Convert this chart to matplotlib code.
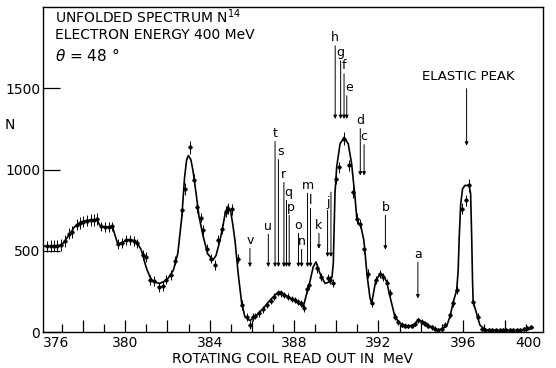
import matplotlib.pyplot as plt
from matplotlib.ticker import FixedLocator

# smooth curve drawn through the measured points (MeV, counts)
curve_x = [376.10, 376.59, 376.99, 377.19, 377.38, 377.58, 377.78, 377.97, 378.17, 378.47,
           378.66, 378.78, 378.86, 379.16, 379.41, 379.55, 379.65, 379.85, 380.15, 380.35,
           380.54, 380.74, 380.84, 380.94, 381.04, 381.19, 381.33, 381.63, 381.83, 382.02,
           382.28, 382.49, 382.68, 382.81, 382.91, 382.99, 383.11, 383.21, 383.36, 383.50,
           383.70, 383.90, 384.15, 384.30, 384.49, 384.64, 384.75, 384.87, 385.00, 385.10,
           385.20, 385.36, 385.52, 385.67, 385.91, 386.23, 386.54, 386.86, 387.18, 387.33,
           387.73, 388.12, 388.44, 388.60, 388.75, 388.91, 389.04, 389.23, 389.47, 389.70,
           389.80, 389.86, 389.94, 390.02, 390.18, 390.37, 390.57, 390.73, 390.89, 390.97,
           391.06, 391.16, 391.31, 391.47, 391.60, 391.68, 391.78, 391.88, 392.10, 392.25,
           392.39, 392.55, 392.78, 393.02, 393.29, 393.49, 393.74, 393.89, 394.08, 394.29,
           394.46, 394.67, 394.85, 395.07, 395.23, 395.39, 395.55, 395.71, 395.78, 395.83,
           395.90, 395.99, 396.10, 396.30, 396.37, 396.42, 396.46, 396.49, 396.65, 396.81,
           396.97, 397.15, 397.84, 398.81, 399.11, 399.31]
curve_n = [528, 528, 535, 570, 605, 645, 667, 680, 687, 690,
           688, 660, 646, 646, 640, 580, 540, 552, 569, 565,
           554, 510, 472, 420, 380, 335, 309, 299, 310, 329,
           380, 483, 707, 950, 1060, 1086, 1060, 994, 850, 707,
           585, 483, 442, 470, 564, 660, 740, 773, 740, 660,
           564, 350, 176, 94, 70, 104, 145, 196, 237, 247,
           217, 186, 155, 237, 309, 401, 431, 360, 299, 309,
           339, 420, 851, 1014, 1158, 1198, 1158, 1035, 830, 707,
           670, 656, 564, 339, 210, 176, 250, 319, 360, 345,
           309, 217, 94, 53, 40, 37, 50, 74, 65, 53,
           33, 18, 12, 25, 35, 94, 186, 258, 380, 585,
           790, 882, 902, 902, 851, 585, 319, 186, 115, 43,
           23, 12, 8, 10, 15, 25]

# data points with statistical errors
pts_x = [376.30, 376.46, 376.62, 376.78, 376.94, 377.14, 377.35, 377.49, 377.70, 377.85,
         378.01, 378.19, 378.36, 378.50, 378.67, 378.83, 379.04, 379.23, 379.38, 379.64,
         379.83, 380.03, 380.22, 380.41, 380.57, 380.85, 380.98, 381.17, 381.36, 381.60,
         381.77, 381.93, 382.17, 382.36, 382.67, 382.83, 383.07, 383.26, 383.41, 383.57,
         383.70, 383.86, 384.05, 384.25, 384.41, 384.57, 384.77, 384.88, 385.04, 385.36,
         385.52, 385.75, 385.91, 386.07, 386.15, 386.35, 386.54, 386.73, 386.89, 387.06,
         387.22, 387.37, 387.54, 387.73, 387.89, 388.04, 388.20, 388.33, 388.46, 388.63,
         388.72, 389.10, 389.26, 389.59, 389.70, 389.83, 389.99, 390.14, 390.37, 390.62,
         390.81, 390.97, 391.12, 391.31, 391.49, 391.68, 391.88, 392.07, 392.23, 392.39,
         392.55, 392.78, 392.94, 393.10, 393.26, 393.41, 393.57, 393.73, 393.89, 394.05,
         394.20, 394.36, 394.52, 394.68, 394.83, 394.99, 395.15, 395.39, 395.55, 395.74,
         395.97, 396.13, 396.30, 396.49, 396.73, 396.91, 397.07, 397.24, 397.40, 397.57,
         397.74, 397.90, 398.07, 398.23, 398.40, 398.56, 398.73, 398.90, 399.06, 399.23]
pts_n = [528, 530, 532, 530, 535, 560, 605, 615, 660, 670,
         680, 685, 690, 690, 695, 650, 645, 648, 650, 540,
         550, 565, 568, 558, 545, 475, 460, 319, 313, 274,
         282, 323, 350, 440, 748, 881, 1137, 937, 769, 704,
         626, 513, 452, 411, 564, 636, 740, 760, 755, 452,
         166, 94, 43, 90, 100, 115, 139, 166, 190, 217,
         241, 237, 227, 217, 204, 196, 186, 176, 145, 262,
         290, 391, 340, 330, 320, 303, 943, 1014, 1188, 1025,
         861, 698, 667, 513, 360, 176, 319, 356, 339, 303,
         237, 94, 60, 45, 40, 37, 37, 50, 72, 62,
         52, 40, 29, 20, 12, 20, 45, 104, 180, 258,
         759, 810, 902, 186, 94, 20, 15, 12, 12, 10,
         10, 12, 10, 12, 12, 15, 15, 18, 22, 28]
pts_err = [35, 35, 35, 35, 35, 35, 35, 35, 35, 35,
           35, 35, 35, 35, 35, 30, 30, 30, 30, 30,
           30, 30, 30, 30, 30, 30, 30, 30, 30, 30,
           30, 30, 30, 30, 35, 35, 40, 35, 35, 30,
           30, 30, 30, 30, 30, 30, 35, 35, 35, 30,
           30, 25, 25, 25, 20, 20, 20, 20, 20, 20,
           20, 20, 20, 20, 20, 20, 20, 20, 20, 25,
           25, 25, 25, 25, 25, 25, 35, 35, 40, 35,
           35, 35, 30, 30, 30, 25, 25, 25, 25, 25,
           25, 20, 15, 15, 15, 15, 15, 15, 15, 15,
           15, 15, 15, 15, 15, 15, 15, 20, 25, 25,
           35, 35, 40, 25, 20, 10, 10, 10, 10, 10,
           10, 10, 10, 10, 10, 10, 10, 10, 10, 10]

# level markers: label, energy, top of arrow, arrow tip
lvl_labels = ['a', 'b', 'c', 'd', 'e', 'f', 'g', 'h', '', 'j', 'k',
              'l', 'm', 'n', 'o', 'p', 'q', 'r', 's', 't', 'u', 'v']
lvl_x = [393.87, 392.33, 391.32, 391.14, 390.50, 390.37, 390.21, 389.95, 389.75, 389.59, 389.18,
         388.78, 388.64, 388.36, 388.21, 387.77, 387.64, 387.52, 387.26, 387.10, 386.78, 385.91]
lvl_top = [429, 718, 1153, 1252, 1454, 1589, 1669, 1761, 861, 748, 607,
           761, 853, 509, 607, 718, 810, 920, 1061, 1172, 601, 515]
lvl_tip = [207, 507, 963, 963, 1311, 1311, 1311, 1311, 462, 462, 513,
           400, 400, 400, 400, 400, 400, 400, 400, 400, 400, 400]

elastic_x = 396.18
elastic_top = 1497
elastic_tip = 1147

plt.rcParams['font.family'] = 'DejaVu Sans'
fig = plt.figure(figsize=(5.56, 3.68), dpi=100)
ax = fig.add_axes([0.0773, 0.0978, 0.8993, 0.8832])

ax.plot(curve_x, curve_n, color='k', lw=1.2)
ax.errorbar(pts_x, pts_n, yerr=pts_err, fmt='D', ms=1.8, color='k',
            elinewidth=0.7, capsize=0)

for lab, x, top, tip in zip(lvl_labels, lvl_x, lvl_top, lvl_tip):
    ax.annotate('', xy=(x, tip), xytext=(x, top),
                arrowprops=dict(arrowstyle='-|>', lw=0.7, color='k',
                                mutation_scale=5, shrinkA=0, shrinkB=0))
    dx = 1.5 if lab in ('q', 'p', 'e', 's') else 0
    ax.annotate(lab, xy=(x, top), xytext=(dx, 1), textcoords='offset points',
                ha='center', va='bottom', fontsize=9)

ax.annotate('', xy=(elastic_x, elastic_tip), xytext=(elastic_x, elastic_top),
            arrowprops=dict(arrowstyle='-|>', lw=0.7, color='k',
                            mutation_scale=5, shrinkA=0, shrinkB=0))
ax.annotate('ELASTIC PEAK', xy=(elastic_x, elastic_top), xytext=(1, 4),
            textcoords='offset points', ha='center', va='bottom', fontsize=9.5)

ax.text(0.024, 0.969, 'UNFOLDED SPECTRUM N$^{14}$', transform=ax.transAxes,
        fontsize=10, va='center', ha='left')
ax.text(0.024, 0.914, 'ELECTRON ENERGY 400 MeV', transform=ax.transAxes,
        fontsize=10, va='center', ha='left')
ax.text(0.024, 0.852, r'$\theta$ = 48 $\degree$', transform=ax.transAxes,
        fontsize=11, va='center', ha='left')

ax.set_xlim(376.1, 399.8)
ax.set_ylim(0, 2000)

ax.xaxis.set_major_locator(FixedLocator([378, 380, 382, 384, 386, 388, 390, 392, 394, 396, 398]))
ax.set_xticklabels(['', '380', '', '384', '', '388', '', '392', '', '396', ''])
ax.xaxis.set_minor_locator(FixedLocator([377, 379, 381, 383, 385, 387, 389, 391, 393, 395, 397, 399]))
ax.tick_params(axis='x', which='major', direction='in', length=8.5, width=0.9,
               labelsize=10, pad=3)
ax.tick_params(axis='x', which='minor', direction='in', length=5.5, width=0.9)
ax.annotate('376', xy=(0, 0), xycoords='axes fraction', xytext=(0, -3),
            textcoords='offset points', ha='left', va='top', fontsize=10)
ax.annotate('400', xy=(1, 0), xycoords='axes fraction', xytext=(-1, -3),
            textcoords='offset points', ha='right', va='top', fontsize=10)

ax.set_yticks([0, 500, 1000, 1500])
ax.set_yticklabels(['0', '500', '1000', '1500'])
ax.tick_params(axis='y', direction='in', length=12, width=0.9, labelsize=10, pad=2)

ax.set_xlabel('ROTATING COIL READ OUT IN  MeV', fontsize=10, labelpad=1)
ax.set_ylabel('N', rotation=0, fontsize=10)
ax.yaxis.set_label_coords(-0.066, 0.615)

for sp in ax.spines.values():
    sp.set_linewidth(1.0)

fig.savefig('out.png', dpi=100)
